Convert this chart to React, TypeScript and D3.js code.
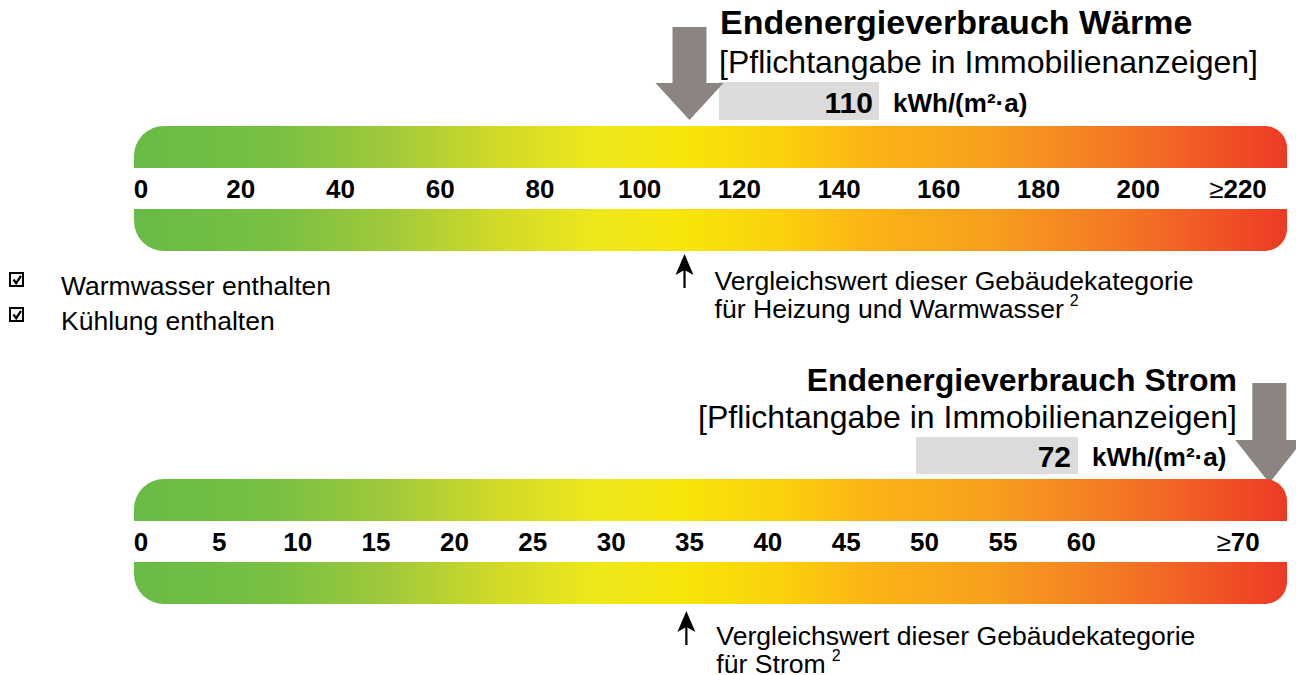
import * as d3 from 'd3';
import React from 'react';

const W = 1296;
const H = 675;

// Wärme scale
const heatTicks = [0, 20, 40, 60, 80, 100, 120, 140, 160, 180, 200];
const heatMax = 220;
const heatValue = 110;
const heatReference = 109;

// Strom scale
const powerTicks = [0, 5, 10, 15, 20, 25, 30, 35, 40, 45, 50, 55, 60];
const powerMax = 70;
const powerValue = 72;
const powerReference = 34.8;

const unitLabel = 'kWh/(m²·a)';
const checkItems = ['Warmwasser enthalten', 'Kühlung enthalten'];

const gradientStops: [number, string][] = [
  [0, '#68bb46'],
  [0.12, '#78c043'],
  [0.22, '#9fc93b'],
  [0.32, '#d2db27'],
  [0.4, '#eee81c'],
  [0.48, '#f6e50a'],
  [0.56, '#fbd10c'],
  [0.64, '#fbb317'],
  [0.74, '#f8a01d'],
  [0.86, '#f37624'],
  [1, '#ed3a24'],
];

const font = 'Liberation Sans, Arial, Helvetica, sans-serif';
const barLeft = 134;
const barRight = 1287;
const bandH = 42;
const arrowGrey = '#8c8480';

function band(x0: number, x1: number, y0: number, y1: number, tl: number, tr: number, br: number, bl: number) {
  const p = d3.path();
  p.moveTo(x0 + tl, y0);
  p.lineTo(x1 - tr, y0);
  if (tr) p.arcTo(x1, y0, x1, y0 + tr, tr);
  p.lineTo(x1, y1 - br);
  if (br) p.arcTo(x1, y1, x1 - br, y1, br);
  p.lineTo(x0 + bl, y1);
  if (bl) p.arcTo(x0, y1, x0, y1 - bl, bl);
  p.lineTo(x0, y0 + tl);
  if (tl) p.arcTo(x0, y0, x0 + tl, y0, tl);
  p.closePath();
  return p.toString();
}

function greyArrow(cx: number, top: number, neck: number, tip: number) {
  const s = 17;
  const h = 34;
  return `M${cx - s},${top}H${cx + s}V${neck}H${cx + h}L${cx},${tip}L${cx - h},${neck}H${cx - s}Z`;
}

function refArrow(cx: number, tip: number) {
  return `M${cx},${tip}L${cx + 9},${tip + 21}L${cx},${tip + 16}L${cx - 9},${tip + 21}Z`;
}

function Scale({ top, ticks, max }: { top: number; ticks: number[]; max: number }) {
  const x = d3.scaleLinear().domain([0, max]).range([141, 1238]);
  const lowTop = top + 83;
  return (
    <g>
      <path d={band(barLeft, barRight, top, top + bandH, 30, 22, 0, 0)} fill="url(#grad)" />
      <path d={band(barLeft, barRight, lowTop, lowTop + bandH, 0, 0, 22, 30)} fill="url(#grad)" />
      {ticks.map((t) => (
        <text key={t} x={x(t)} y={top + 72} textAnchor="middle" fontSize={26} fontWeight="bold" fontFamily={font}>
          {t}
        </text>
      ))}
      <text x={x(max)} y={top + 72} textAnchor="middle" fontSize={26} fontWeight="bold" fontFamily={font}>
        <tspan fontWeight="normal">≥</tspan>
        {max}
      </text>
    </g>
  );
}

function Reference({ cx, tip, textY, lines }: { cx: number; tip: number; textY: number; lines: string[] }) {
  return (
    <g>
      <path d={refArrow(cx, tip)} fill="#000" />
      <line x1={cx} x2={cx} y1={tip + 14} y2={tip + 34} stroke="#000" strokeWidth={2.2} />
      {lines.map((l, i) => (
        <text key={i} x={cx + 30} y={textY + i * 28} fontSize={26.6} fontFamily={font}>
          {l}
          {i === lines.length - 1 && (
            <tspan fontSize={16} dx={6} dy={-12}>
              2
            </tspan>
          )}
        </text>
      ))}
    </g>
  );
}

export default function App() {
  const xHeat = d3.scaleLinear().domain([0, heatMax]).range([141, 1238]);
  const xPower = d3.scaleLinear().domain([0, powerMax]).range([141, 1238]);

  return (
    <svg width={W} height={H} style={{ position: 'absolute', left: 0, top: 0, background: '#fff' }}>
      <defs>
        <linearGradient id="grad" gradientUnits="userSpaceOnUse" x1={barLeft} x2={barRight} y1={0} y2={0}>
          {gradientStops.map(([o, c]) => (
            <stop key={o} offset={o} stopColor={c} />
          ))}
        </linearGradient>
      </defs>

      {/* Wärme */}
      <text x={720} y={34} fontSize={34} fontWeight="bold" fontFamily={font}>
        Endenergieverbrauch Wärme
      </text>
      <text x={719} y={73} fontSize={32} fontFamily={font}>
        [Pflichtangabe in Immobilienanzeigen]
      </text>
      <rect x={719} y={82} width={160} height={38} fill="#dcdcdc" />
      <text x={873} y={113} textAnchor="end" fontSize={30} fontWeight="bold" fontFamily={font}>
        {heatValue}
      </text>
      <text x={893} y={112} fontSize={26} fontWeight="bold" fontFamily={font}>
        {unitLabel}
      </text>
      <path d={greyArrow(xHeat(heatValue), 27, 83, 120)} fill={arrowGrey} />
      <Scale top={126} ticks={heatTicks} max={heatMax} />
      <Reference
        cx={xHeat(heatReference)}
        tip={254}
        textY={290}
        lines={['Vergleichswert dieser Gebäudekategorie', 'für Heizung und Warmwasser']}
      />

      {checkItems.map((c, i) => (
        <g key={c} transform={`translate(0,${i * 35})`}>
          <rect x={10} y={273} width={13} height={13} fill="#fff" stroke="#000" strokeWidth={2} />
          <path d="M13.5,279.5L16.2,283.2L21,275.8" fill="none" stroke="#000" strokeWidth={2.2} />
          <text x={61} y={295} fontSize={26.5} fontFamily={font}>
            {c}
          </text>
        </g>
      ))}

      {/* Strom */}
      <text x={1237} y={391} textAnchor="end" fontSize={32} fontWeight="bold" fontFamily={font}>
        Endenergieverbrauch Strom
      </text>
      <text x={1237} y={428} textAnchor="end" fontSize={32} fontFamily={font}>
        [Pflichtangabe in Immobilienanzeigen]
      </text>
      <rect x={916} y={437} width={162} height={37} fill="#dcdcdc" />
      <text x={1071} y={467} textAnchor="end" fontSize={30} fontWeight="bold" fontFamily={font}>
        {powerValue}
      </text>
      <text x={1092} y={466} fontSize={26} fontWeight="bold" fontFamily={font}>
        {unitLabel}
      </text>
      <path d={greyArrow(xPower(powerValue), 383, 440, 483)} fill={arrowGrey} />
      <Scale top={479} ticks={powerTicks} max={powerMax} />
      <Reference
        cx={xPower(powerReference)}
        tip={611}
        textY={645}
        lines={['Vergleichswert dieser Gebäudekategorie', 'für Strom']}
      />
    </svg>
  );
}
